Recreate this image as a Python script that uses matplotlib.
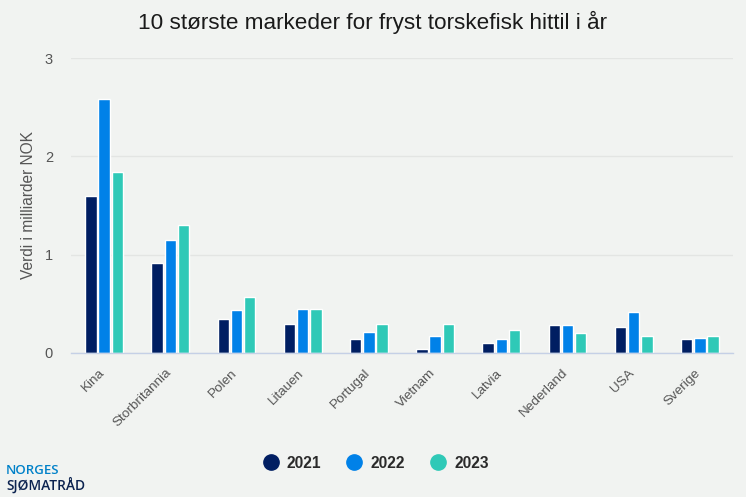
import numpy as np
import matplotlib
matplotlib.use("Agg")
import matplotlib.pyplot as plt

plt.rcParams["font.family"] = ["Liberation Sans", "DejaVu Sans"]

BG = "#f1f3f1"
COLORS = ["#001e62", "#0081e8", "#2fc9b7"]

markets = ["Kina", "Storbritannia", "Polen", "Litauen", "Portugal",
           "Vietnam", "Latvia", "Nederland", "USA", "Sverige"]
v2021 = [1.60, 0.92, 0.35, 0.30, 0.14, 0.04, 0.10, 0.28, 0.26, 0.14]
v2022 = [2.58, 1.15, 0.44, 0.45, 0.21, 0.17, 0.14, 0.28, 0.42, 0.15]
v2023 = [1.84, 1.30, 0.57, 0.45, 0.30, 0.30, 0.23, 0.20, 0.17, 0.17]
years = ["2021", "2022", "2023"]
yticks = [0, 1, 2, 3]

W, H = 746, 497
fig = plt.figure(figsize=(W / 100, H / 100), dpi=100, facecolor=BG)
ax = fig.add_axes([71 / W, 1 - 353 / H, 662 / W, 295 / H], facecolor=BG)

x = np.arange(len(markets))
for i, vals in enumerate([v2021, v2022, v2023]):
    ax.bar(x + (i - 1) * 0.198, vals, width=0.172, color=COLORS[i],
           edgecolor="white", linewidth=1.0, zorder=3)

ax.set_xlim(-0.5, 9.5)
ax.set_ylim(0, 3)
ax.set_yticks(yticks)
ax.set_yticklabels(yticks, fontsize=10.5, color="#555555")
ax.set_xticks(x - 0.08)
ax.set_xticklabels(markets, rotation=45, ha="right", rotation_mode="anchor",
                   fontsize=9.7, color="#555555")
ax.tick_params(axis="both", length=0)
ax.tick_params(axis="x", pad=10)
ax.tick_params(axis="y", pad=13)
ax.grid(axis="y", color="#e3e5e3", linewidth=1, zorder=0)
for s in ["top", "right", "left"]:
    ax.spines[s].set_visible(False)
ax.spines["bottom"].set_color("#c5d0e6")
ax.spines["bottom"].set_linewidth(1)
ax.spines["bottom"].set_zorder(4)

ax.set_ylabel("Verdi i milliarder NOK", fontsize=11.2, color="#555555")
ax.yaxis.set_label_coords(-(71 - 36) / 662, 0.5)

fig.text(373 / W, 1 - 22 / H, "10 største markeder for fryst torskefisk hittil i år",
         ha="center", va="center", fontsize=16.2, color="#1a1a1a")

# legend
handles = [plt.Line2D([], [], marker="o", linestyle="none", markersize=11,
                      color=c) for c in COLORS]
fig.legend(handles, years, loc="center", bbox_to_anchor=(376 / W, 1 - 463 / H),
           ncol=3, frameon=False, prop={"weight": "bold", "size": 11.2},
           columnspacing=1.62, handlelength=1, handletextpad=0.55,
           labelcolor="#2a2a2a")

# logo
fig.text(6 / W, 1 - 470 / H, "NORGES", fontsize=9.5, color="#0081c9",
         ha="left", va="center", family="Open Sans", weight="semibold")
fig.text(6 / W, 1 - 485 / H, "SJØMATRÅD", fontsize=9.9, color="#0c2350",
         ha="left", va="center", family="Open Sans", weight="semibold")

fig.savefig("out.png", dpi=100, facecolor=BG)
